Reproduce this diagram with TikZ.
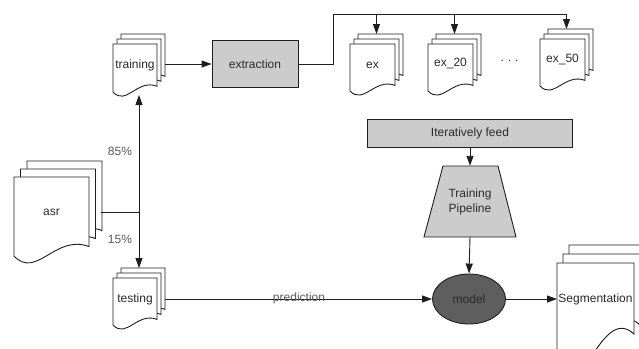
\documentclass[tikz,border=0pt]{standalone}
\usepackage{fontspec}
\setmainfont{Liberation Sans}
\usetikzlibrary{arrows.meta,shapes.geometric,calc}
\definecolor{lc}{HTML}{1E1E1E}
\definecolor{tc}{HTML}{2A2A2A}
\definecolor{lblc}{HTML}{5A5A5A}
\definecolor{boxfill}{HTML}{CCCCCC}
\definecolor{modelfill}{HTML}{5E5E5E}
\newcommand\docpage[5]{%
  \pgfmathsetmacro\mdX{#1}\pgfmathsetmacro\mdY{#2}\pgfmathsetmacro\mdW{#3}%
  \pgfmathsetmacro\mdH{#4}\pgfmathsetmacro\mdD{#5}%
  \filldraw[pageline] (\mdX,\mdY) -- (\mdX+\mdW,\mdY) -- (\mdX+\mdW,\mdY+\mdH-1.2*\mdD)
    .. controls (\mdX+0.55*\mdW,\mdY+\mdH-2.8*\mdD) and (\mdX+0.3*\mdW,\mdY+\mdH+3*\mdD) .. (\mdX,\mdY+\mdH) -- cycle;}
\newcommand\mdoc[7]{%
  \foreach \k in {2,1,0}{\docpage{#1+\k*#5}{#2-\k*#6}{#3}{#4}{#7}}}
\begin{document}
\begin{tikzpicture}[x=1pt,y=-1pt,
  pageline/.style={draw=lc,fill=white,line width=0.9pt},
  txt/.style={text=tc,font=\fontsize{12}{15}\selectfont,inner sep=0pt},
  lbl/.style={text=lblc,font=\fontsize{12}{15}\selectfont,inner sep=0pt},
  graybox/.style={draw=lc,fill=boxfill,line width=0.9pt,text=tc,font=\fontsize{12}{15}\selectfont,inner sep=0pt},
  conn/.style={draw=lc,line width=0.9pt},
  arr/.style={conn,-{Triangle[length=10pt,width=7pt]}}]
\useasboundingbox (0,0) rectangle (639,348);
\clip (0,0) rectangle (639,348);
% documents
\mdoc{113}{44}{44}{48}{4}{5}{4.8}
\node[txt] (train) at (135,65.5) {training};
\mdoc{14}{177}{75}{79}{6.5}{8}{7.9}
\node[txt] (asr) at (51.5,212) {asr};
\mdoc{113}{278}{44}{47}{4}{5}{4.7}
\node[txt] (test) at (135,299) {testing};
\mdoc{350}{44}{45}{47}{4}{5}{4.7}
\node[txt] (ex) at (372.5,65) {ex};
\mdoc{428}{44}{45}{47}{4}{5}{4.7}
\node[txt] (extw) at (450.5,64) {ex\_20};
\mdoc{540}{39}{45}{47}{4}{5}{4.7}
\node[txt] (exf) at (562.5,60) {ex\_50};
\node[txt] (dots) at (509.5,61) {.\hspace{4pt}.\hspace{4pt}.};
\mdoc{557}{263}{77}{95}{6}{9}{20}
\node[txt] (seg) at (595.5,299) {Segmentation};
% boxes
\node[graybox,minimum width=86,minimum height=47] (extract) at (255,64) {extraction};
\node[graybox,minimum width=205,minimum height=28] (feed) at (470,133) {Iteratively feed};
\filldraw[draw=lc,fill=boxfill,line width=0.9pt] (443,166) -- (498,166) -- (516,237) -- (424,237) -- cycle;
\node[txt,align=center,minimum width=55,minimum height=71] (pipe) at (470,201.5) {Training\\Pipeline};
\node[ellipse,draw=lc,fill=modelfill,line width=0.9pt,minimum width=73,minimum height=50,inner sep=0pt,text=tc,font=\fontsize{12}{15}\selectfont] (model) at (469,299) {model};
% coordinates
\coordinate (asrR) at (101,212);
\coordinate (split) at (139,212);
\coordinate (trainB) at (139,95);
\coordinate (testT) at (139,268);
\coordinate (trainR) at (165,64);
\coordinate (testR) at (165,299);
\coordinate (busL) at (333,14);
\coordinate (busR) at (566.5,14);
\coordinate (exT) at (376.5,34);
\coordinate (extwT) at (454.5,34);
\coordinate (exfT) at (566.5,29);
\coordinate (segL) at (557,299);
% connectors
\draw[conn] (asrR) -- (split);
\draw[arr] (split) -- (trainB);
\draw[arr] (split) -- (testT);
\draw[arr] (trainR) -- (extract.west);
\draw[conn] (extract.east) -| (busL) -- (busR);
\draw[arr] (exT |- busL) -- (exT);
\draw[arr] (extwT |- busL) -- (extwT);
\draw[arr] (busR) -- (exfT);
\draw[arr] (feed.south) -- (pipe.north);
\draw[arr] (pipe.south) -- (model.north);
\draw[arr] (testR) -- (model.west);
\node[lbl] (pred) at (299,298) {prediction};
\draw[arr] (model.east) -- (segL);
\node[lbl] (p85) at (120,151) {85\%};
\node[lbl] (p15) at (120,239) {15\%};
\end{tikzpicture}
\end{document}
